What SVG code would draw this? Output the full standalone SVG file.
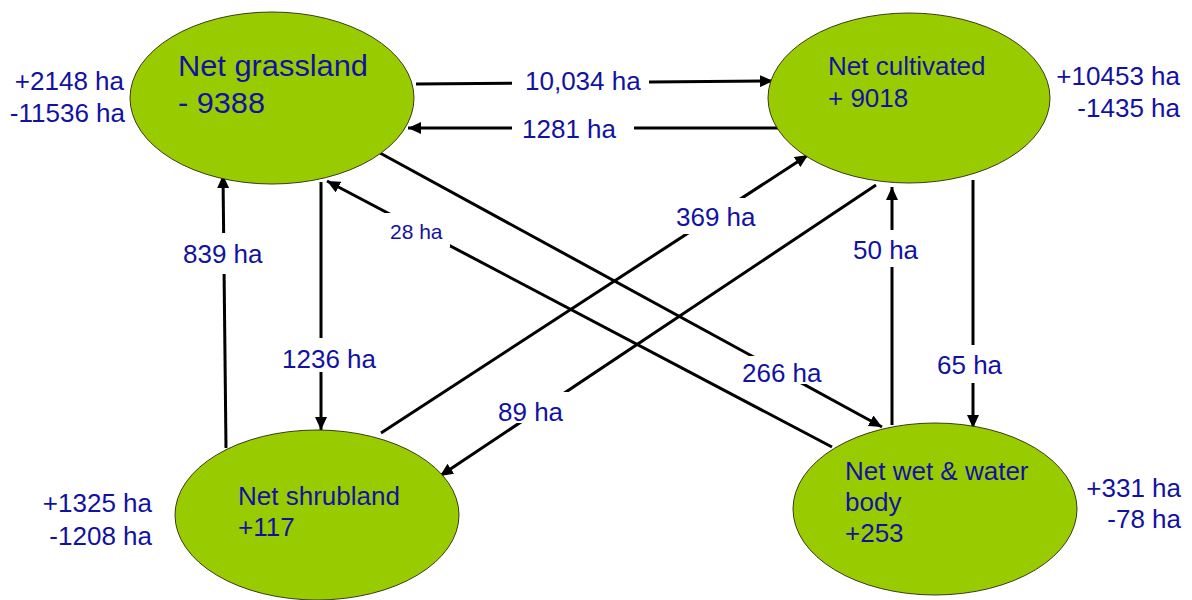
<svg xmlns="http://www.w3.org/2000/svg" width="1192" height="600" viewBox="0 0 1192 600">
<style>
.node{fill:#99cc00;stroke:#3a3a1a;stroke-width:1}
.t{font-family:"Liberation Sans",Arial,sans-serif;fill:#1212a2}
.nt{font-size:26px}
.lbl{font-size:26px}
.side{font-size:26px;text-anchor:end}
.conn line{stroke:#000;stroke-width:3;marker-end:url(#ah)}
.box{fill:#fff}
</style>
<defs>
<marker id="ah" markerUnits="userSpaceOnUse" markerWidth="14" markerHeight="12" refX="13" refY="6" orient="auto">
<path d="M0,0 L13,6 L0,12 z" fill="#000"/>
</marker>
</defs>
<rect width="1192" height="600" fill="#fff"/>
<g id="connectors" class="conn">
<line x1="416" y1="84" x2="773" y2="81"/>
<line x1="780" y1="128" x2="408" y2="128"/>
<line x1="380" y1="153" x2="882" y2="427"/>
<line x1="832" y1="447" x2="327" y2="181"/>
<line x1="321" y1="182" x2="321" y2="430"/>
<line x1="226" y1="448" x2="223" y2="175"/>
<line x1="381" y1="433" x2="808" y2="155"/>
<line x1="876" y1="185" x2="440" y2="476"/>
<line x1="892" y1="425" x2="892" y2="187"/>
<line x1="973" y1="180" x2="973" y2="428"/>
</g>
<g id="edge-labels">
<rect class="box" x="512" y="61" width="137" height="41"/>
<text class="t lbl" x="525" y="90">10,034 ha</text>
<rect class="box" x="512" y="110" width="122" height="38"/>
<text class="t lbl" x="522" y="138">1281 ha</text>
<rect class="box" x="383" y="213" width="67" height="34"/>
<text class="t" x="390" y="239" style="font-size:21px">28 ha</text>
<rect class="box" x="175" y="233" width="100" height="41"/>
<text class="t lbl" x="183" y="263">839 ha</text>
<rect class="box" x="272" y="338" width="110" height="34"/>
<text class="t lbl" x="282" y="368">1236 ha</text>
<rect class="box" x="733" y="356" width="95" height="28"/>
<text class="t lbl" x="742" y="382">266 ha</text>
<rect class="box" x="488" y="392" width="87" height="31"/>
<text class="t lbl" x="498" y="421">89 ha</text>
<rect class="box" x="667" y="198" width="92" height="36"/>
<text class="t lbl" x="676" y="226">369 ha</text>
<rect class="box" x="845" y="230" width="88" height="37"/>
<text class="t lbl" x="853" y="259">50 ha</text>
<rect class="box" x="928" y="345" width="88" height="38"/>
<text class="t lbl" x="937" y="374">65 ha</text>
</g>
<g id="grassland">
<ellipse class="node" cx="272" cy="98" rx="142" ry="86"/>
<text class="t" x="178" y="76" style="font-size:29px" textLength="190" lengthAdjust="spacingAndGlyphs">Net grassland</text>
<text class="t" x="178" y="113" style="font-size:29px" textLength="87" lengthAdjust="spacingAndGlyphs">- 9388</text>
<text class="t side" x="124" y="90">+2148 ha</text>
<text class="t side" x="125" y="122">-11536 ha</text>
</g>
<g id="cultivated">
<ellipse class="node" cx="909" cy="98" rx="141" ry="85"/>
<text class="t nt" x="828" y="75">Net cultivated</text>
<text class="t nt" x="828" y="107">+ 9018</text>
<text class="t side" x="1180" y="85">+10453 ha</text>
<text class="t side" x="1180" y="117">-1435 ha</text>
</g>
<g id="shrubland">
<ellipse class="node" cx="317" cy="515" rx="142" ry="85"/>
<text class="t nt" x="238" y="505">Net shrubland</text>
<text class="t nt" x="238" y="536">+117</text>
<text class="t side" x="152" y="512">+1325 ha</text>
<text class="t side" x="152" y="545">-1208 ha</text>
</g>
<g id="wetwater">
<ellipse class="node" cx="935" cy="509" rx="142" ry="86"/>
<text class="t nt" x="845" y="480">Net wet &amp; water</text>
<text class="t nt" x="845" y="511">body</text>
<text class="t nt" x="845" y="542">+253</text>
<text class="t side" x="1181" y="497">+331 ha</text>
<text class="t side" x="1181" y="528">-78 ha</text>
</g>
</svg>
